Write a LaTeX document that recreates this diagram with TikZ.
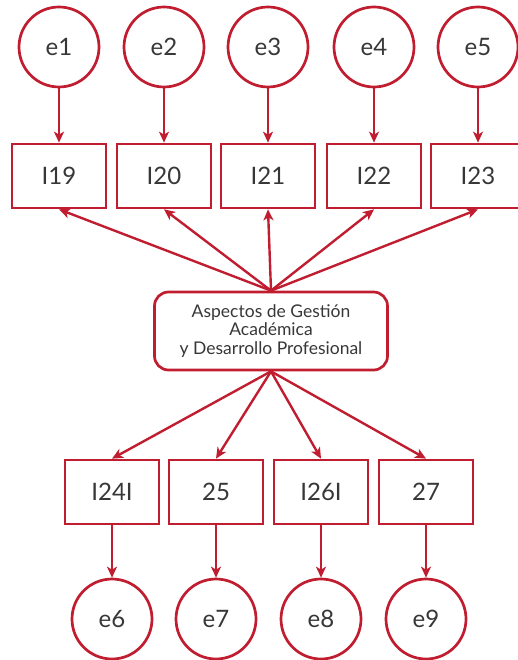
\documentclass[tikz,border=0pt]{standalone}
\usepackage{fontspec}
\setmainfont{Lato}
\usepackage{xcolor}
\usepackage{tikz}
\usetikzlibrary{shapes,arrows.meta,positioning,calc}
\definecolor{crimsonred}{RGB}{192, 30, 48}
\definecolor{textgray}{RGB}{55, 55, 55}

\tikzset{
    errnode/.style={circle,draw=crimsonred,line width=2.7pt,minimum size=80pt,inner sep=0pt,text=textgray,font=\fontsize{24}{24}\selectfont},
    itembox/.style={rectangle,draw=crimsonred,line width=2.7pt,minimum width=94pt,minimum height=64pt,inner sep=0pt,text=textgray,font=\fontsize{24}{24}\selectfont},
    factorbox/.style={rectangle,rounded corners=14pt,draw=crimsonred,line width=2.7pt,minimum width=233pt,minimum height=78pt,align=center,text=textgray,font=\fontsize{17.5}{18.5}\selectfont},
    link/.style={draw=crimsonred,line width=2.4pt,-{Stealth[length=11pt,width=10pt,inset=3pt]}}
}

\begin{document}
\begin{tikzpicture}[x=1pt,y=-1pt]
    \useasboundingbox (0,0) rectangle (517,660);
    % upper indicators with their errors
    \foreach \n/\lab/\px in {1/I19/59,2/I20/164,3/I21/268,4/I22/374,5/I23/478} {
        \node[errnode] (e\n) at (\px,47) {e\n};
        \node[itembox] (top\n) at (\px,176) {\lab};
        \draw[link] (e\n) -- (top\n);
    }
    % latent factor
    \node[factorbox] (factor) at (271,331) {Aspectos de Gestión\\Académica\\y Desarrollo Profesional};
    \foreach \n in {1,...,5}
        \draw[link] (factor.north) -- (top\n.south);
    % lower indicators with their errors
    \foreach \n/\lab/\px/\en in {1/I24I/112/6,2/25/216/7,3/I26I/321/8,4/27/426/9} {
        \node[itembox] (low\n) at (\px,492) {\lab};
        \node[errnode] (e\en) at (\px,619) {e\en};
        \draw[link] (factor.south) -- (low\n.north);
        \draw[link] (low\n) -- (e\en);
    }
\end{tikzpicture}
\end{document}
